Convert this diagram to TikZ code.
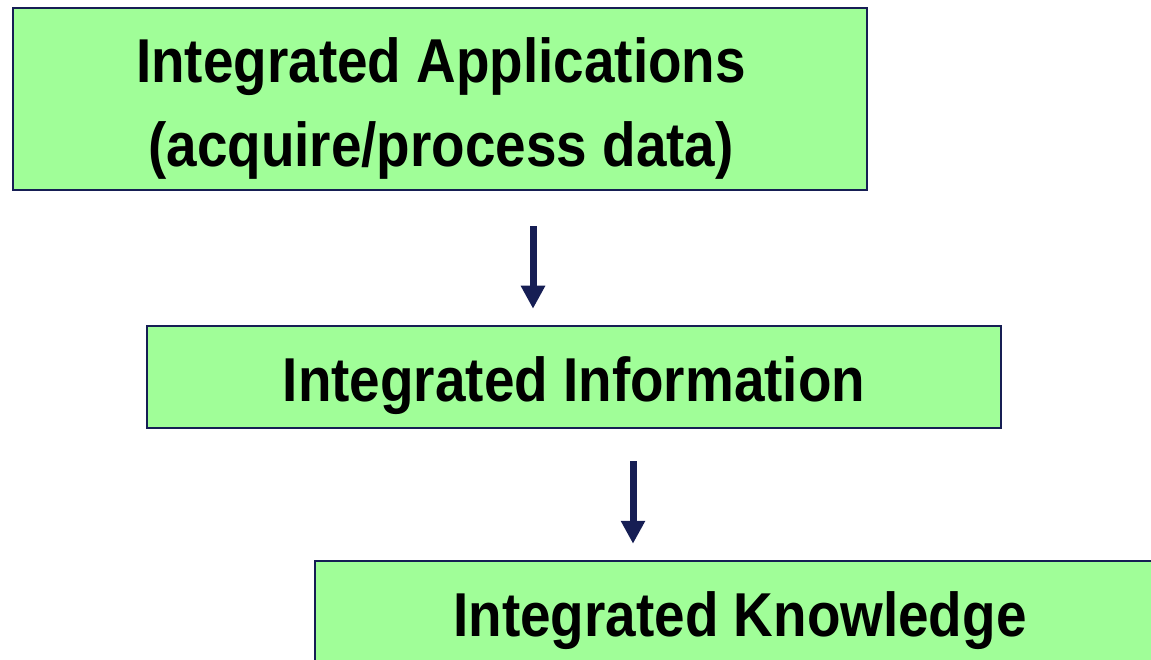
\documentclass[tikz,border=0pt]{standalone}
\usepackage{fontspec}
\setmainfont{Liberation Sans}[FakeStretch=0.885]
\usetikzlibrary{arrows.meta}
\definecolor{boxfill}{RGB}{160,254,152}
\definecolor{navy}{RGB}{22,30,84}
\tikzset{
  box/.style={draw=navy, line width=2.5pt, fill=boxfill, inner sep=0pt, align=center,
    text height=49pt, text depth=0pt, font=\bfseries\fontsize{62}{84}\selectfont},
  label text/.style={inner sep=0pt, align=center, font=\bfseries\fontsize{62}{84}\selectfont},
  arr/.style={navy, line width=7pt, -{Triangle[width=23pt,length=23pt]}}
}
\begin{document}
\begin{tikzpicture}[x=1pt,y=-1pt]
\useasboundingbox (0,0) rectangle (1151,660);
\clip (0,0) rectangle (1151,660);
\node[box, minimum width=854pt, minimum height=182pt] (b1) at (440,99) {};
\node[label text] (t1) at (441,108) {Integrated Applications\\(acquire/process data)};
\node[box, minimum width=854pt, minimum height=102pt] (b2) at (574,377) {Integrated Information};
\node[box, minimum width=850pt, minimum height=102pt] (b3) at (740,612) {Integrated Knowledge};
\coordinate (a1) at (533,0);
\coordinate (a2) at (633,0);
\draw[arr, shorten <=35pt, shorten >=16pt] (b1.south -| a1) -- (b2.north -| a1);
\draw[arr, shorten <=32pt, shorten >=16pt] (b2.south -| a2) -- (b3.north -| a2);
\end{tikzpicture}
\end{document}
